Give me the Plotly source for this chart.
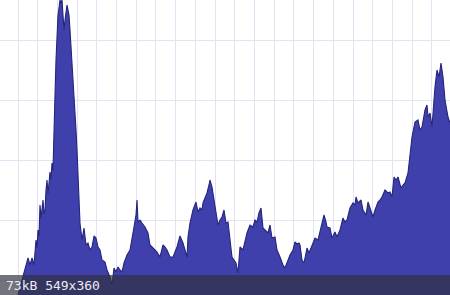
import plotly.graph_objects as go

# sample positions (horizontal) and signal level
sample = [18, 20, 23, 26, 28, 30, 32, 34, 36, 37, 38, 39, 40, 41, 42, 43, 44, 45, 46, 47,
          48, 49, 50, 51, 52, 53, 54,
          55, 56, 57, 58, 59, 60, 61, 62, 63, 64, 65, 66, 67, 68, 69, 70, 71, 72, 73, 74,
          75, 76, 77, 78, 79, 80, 82, 84, 86, 88, 90, 92, 94, 96, 98, 100, 102, 105, 107, 110,
          112, 114, 116, 118, 120, 122, 124, 127, 130, 132, 134, 136, 137, 138, 140, 142, 145, 148, 150, 153,
          157, 160, 163, 165, 167, 170, 173, 177, 180, 183, 187, 188, 190, 193, 196, 198, 200, 202, 203, 205,
          207, 209, 210, 212, 214, 215, 218, 220, 222, 224, 226, 228, 230, 232, 234, 236, 238, 240, 243, 245,
          247, 250, 253, 255, 257, 259, 261, 263, 265, 268, 270, 272, 275, 277, 280, 283, 285, 287, 290, 293,
          295, 297, 299, 300, 302, 304, 307, 309, 312, 315, 318, 320, 322, 324, 326, 327, 330, 332, 335, 337,
          340, 343, 345, 347, 350, 353, 355, 356, 358, 361, 363, 366, 368, 371, 373, 375, 378, 380, 382, 385,
          388, 390, 392, 394, 396, 398, 401, 403, 405, 408, 410, 412, 415, 418, 420, 422, 425, 427, 428, 430,
          432, 434, 435, 437, 439, 441, 443, 445, 448, 450]

top_px = [295, 287, 275, 263, 258, 265, 258, 265, 240, 248, 230, 236, 205, 218, 210, 200, 214, 210, 190, 180,
          194, 185, 172, 180, 163, 170, 120,
          95, 60, 30, 15, 8, 0, 3, 0, 15, 30, 20, 10, 5, 10, 15, 30, 45, 60, 80, 95,
          110, 130, 150, 180, 210, 223, 240, 228, 245, 243, 250, 247, 236, 238, 247, 250, 260, 262, 270, 277,
          285, 268, 272, 267, 270, 272, 263, 255, 250, 240, 227, 215, 200, 222, 220, 223, 227, 233, 245, 248,
          252, 257, 245, 247, 250, 257, 257, 247, 236, 243, 257, 237, 223, 210, 202, 212, 208, 210, 203, 198,
          193, 185, 180, 187, 200, 210, 225, 220, 217, 210, 223, 222, 237, 257, 260, 263, 273, 247, 250, 240,
          233, 225, 227, 220, 222, 213, 208, 228, 230, 233, 225, 238, 237, 250, 257, 265, 268, 263, 255, 250,
          242, 244, 243, 245, 260, 263, 248, 253, 245, 238, 240, 232, 223, 215, 222, 227, 228, 238, 232, 237,
          230, 218, 222, 220, 208, 203, 205, 197, 203, 200, 210, 215, 202, 210, 217, 210, 202, 200, 197, 190,
          193, 192, 197, 177, 180, 177, 188, 185, 183, 173, 157, 137, 122, 120, 130, 127, 110, 105, 117, 113,
          127, 100, 87, 70, 77, 63, 77, 100, 117, 123]

level = [295 - v for v in top_px]

caption = "73kB 549x360"

fig = go.Figure()
fig.add_trace(go.Scatter(
    x=sample, y=level, mode="lines", fill="tozeroy",
    line=dict(color="rgb(36,36,124)", width=1.1),
    fillcolor="rgb(64,64,172)", hoverinfo="skip", showlegend=False,
))

fig.add_shape(type="rect", xref="paper", yref="paper", x0=0, x1=1, y0=0, y1=20 / 295,
              fillcolor="rgba(48,48,64,0.68)", line=dict(width=0), layer="above")

fig.add_annotation(text=caption, xref="paper", yref="paper", x=4 / 450, y=10 / 295,
                   xanchor="left", yanchor="middle", showarrow=False,
                   font=dict(family="DejaVu Sans Mono", size=13, color="rgb(236,236,240)"))

fig.update_layout(
    width=450, height=295, margin=dict(l=0, r=0, t=0, b=0),
    paper_bgcolor="white", plot_bgcolor="white",
    xaxis=dict(range=[0, 450], showticklabels=False, tick0=18, dtick=19.71,
               showgrid=True, gridcolor="rgb(226,226,242)", gridwidth=1, zeroline=False,
               showline=False, fixedrange=True),
    yaxis=dict(range=[0, 295], showticklabels=False, tick0=15, dtick=60,
               showgrid=True, gridcolor="rgb(226,226,242)", gridwidth=1, zeroline=False,
               showline=False, fixedrange=True),
)

fig.write_html("out.html")
